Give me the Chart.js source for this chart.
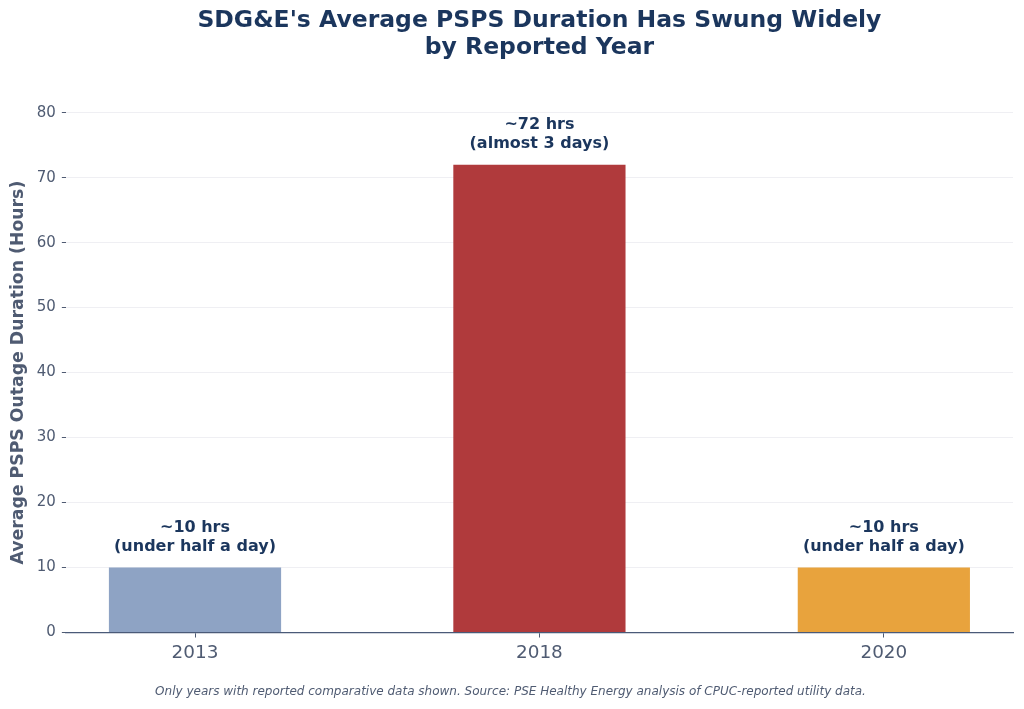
<!DOCTYPE html>
<html>
<head>
<meta charset="utf-8">
<script src="https://cdn.jsdelivr.net/npm/chart.js@4/dist/chart.umd.min.js"></script>
<style>
  html, body { margin: 0; padding: 0; background: #ffffff; }
  #wrap { width: 1024px; height: 709px; }
</style>
</head>
<body>
<div id="wrap"><canvas id="myChart"></canvas></div>
<script>
const years = ['2013', '2018', '2020'];
const avgHours = [10, 72, 10];
const barColors = ['#8ea3c4', '#b03a3c', '#e8a33d'];
const barNotes = [
    ['~10 hrs', '(under half a day)'],
    ['~72 hrs', '(almost 3 days)'],
    ['~10 hrs', '(under half a day)'],
];
const yTicks = [0, 10, 20, 30, 40, 50, 60, 70, 80];

const textColor = '#4f5b72';
const navy = '#1b365d';

// writes the two-line note above each bar
const barNotesPlugin = {
    id: 'barNotes',
    afterDatasetsDraw(chart) {
        const ctx = chart.ctx;
        const meta = chart.getDatasetMeta(0);
        ctx.save();
        ctx.font = 'bold 16px "DejaVu Sans"';
        ctx.fillStyle = navy;
        ctx.textAlign = 'center';
        ctx.textBaseline = 'middle';
        meta.data.forEach((bar, i) => {
            const lines = barNotes[i];
            ctx.fillText(lines[0], bar.x, bar.y - 40);
            ctx.fillText(lines[1], bar.x, bar.y - 21);
        });
        ctx.restore();
    }
};

const ctx = document.getElementById('myChart').getContext('2d');

new Chart(ctx, {
    type: 'bar',
    data: {
        datasets: [{
            data: avgHours.map((v, i) => ({ x: i, y: v })),
            backgroundColor: barColors,
            borderWidth: 0,
            categoryPercentage: 1,
            barPercentage: 0.5,
        }]
    },
    options: {
        animation: false,
        responsive: true,
        maintainAspectRatio: false,
        layout: {
            padding: { left: 8, right: 11, top: 0, bottom: 0 }
        },
        plugins: {
            legend: { display: false },
            tooltip: { enabled: false },
            title: {
                display: true,
                fullSize: false,
                text: ["SDG&E's Average PSPS Duration Has Swung Widely", 'by Reported Year'],
                color: navy,
                font: { family: 'DejaVu Sans', size: 23.5, weight: 'bold', lineHeight: 1.12 },
                padding: { top: 8, bottom: 52 },
            },
            subtitle: {
                display: true,
                position: 'bottom',
                text: 'Only years with reported comparative data shown. Source: PSE Healthy Energy analysis of CPUC-reported utility data.',
                color: textColor,
                font: { family: 'DejaVu Sans', size: 12, style: 'italic' },
                padding: { top: 15, bottom: 10 },
            },
        },
        scales: {
            x: {
                type: 'linear',
                min: -0.375,
                max: 2.375,
                offset: false,
                afterBuildTicks: (axis) => {
                    axis.ticks = years.map((_, i) => ({ value: i }));
                },
                ticks: {
                    color: textColor,
                    font: { family: 'DejaVu Sans', size: 18.4 },
                    padding: 5,
                    maxRotation: 0,
                    callback: (value) => years[value],
                },
                grid: {
                    offset: false,
                    drawOnChartArea: false,
                    drawTicks: true,
                    tickLength: 5,
                    tickColor: '#4f5b72',
                },
                border: {
                    display: true,
                    color: '#4a5a78',
                    width: 1.3,
                },
            },
            y: {
                min: 0,
                max: 80,
                afterBuildTicks: (axis) => {
                    axis.ticks = yTicks.map(v => ({ value: v }));
                },
                ticks: {
                    color: textColor,
                    font: { family: 'DejaVu Sans', size: 15 },
                    padding: 6,
                },
                grid: {
                    color: '#efeff3',
                    lineWidth: 1,
                    tickLength: 4,
                    tickColor: '#4f5b72',
                },
                title: {
                    display: true,
                    text: 'Average PSPS Outage Duration (Hours)',
                    color: textColor,
                    font: { family: 'DejaVu Sans', size: 17.3, weight: 'bold' },
                    padding: { top: 0, bottom: 2 },
                },
                border: {
                    display: false,
                }
            },
        },
    },
    plugins: [barNotesPlugin],
});
</script>
</body>
</html>
